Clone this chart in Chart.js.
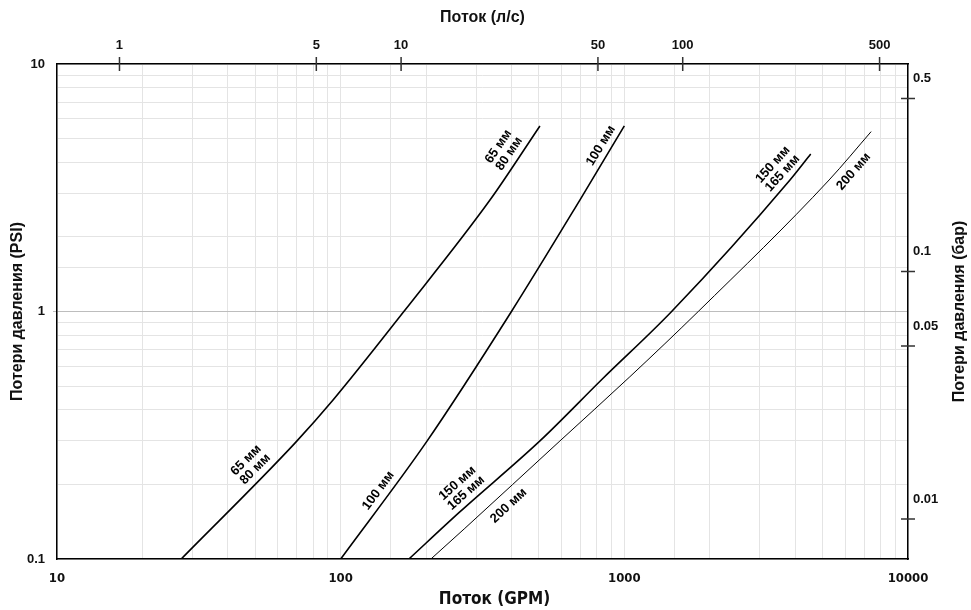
<!DOCTYPE html>
<html lang="ru">
<head>
  <meta charset="UTF-8">
  <title>Потери давления – Поток</title>
  <style>
    body { margin: 0; background: #fff; }
    #wrap { width: 971px; height: 610px; }
  </style>
</head>
<body>
  <div id="wrap"><canvas id="chart"></canvas></div>

  <script src="https://cdn.jsdelivr.net/npm/chart.js"></script>
  <script>
    // Поток (GPM) и потери давления (PSI)
    const gpm65 = [27.4, 69, 94, 167, 336, 504];
    const psi65 = [0.1, 0.294, 0.439, 1.0, 2.82, 5.62];

    const gpm100 = [100, 201, 400, 697, 1000];
    const psi100 = [0.1, 0.298, 1.0, 2.82, 5.62];

    const gpm150 = [174, 263, 504, 838, 1468, 3837, 4540];
    const psi150 = [0.1, 0.155, 0.30, 0.535, 1.0, 3.40, 4.33];

    const gpm200 = [208, 274, 593, 1046, 1822, 5272, 7413];
    const psi200 = [0.1, 0.133, 0.30, 0.545, 1.0, 3.40, 5.33];

    const gpmTickLabels = [10, 100, 1000, 10000];
    const psiTickLabels = [0.1, 1, 10];
    const lpsTicks = [1, 5, 10, 50, 100, 500];
    const barTicks = [0.5, 0.1, 0.05, 0.01];

    // подписи кривых: серия, положение по оси GPM, строки, сторона
    const curveLabels = [
      { series: 0, at: 53,   lines: ['65 мм', '80 мм'],   side: 1 },
      { series: 0, at: 420,  lines: ['65 мм', '80 мм'],   side: 1 },
      { series: 1, at: 145,  lines: ['100 мм'],           side: 1 },
      { series: 1, at: 886,  lines: ['100 мм'],           side: 1 },
      { series: 2, at: 292,  lines: ['150 мм', '165 мм'], side: 1 },
      { series: 2, at: 3837, lines: ['150 мм', '165 мм'], side: 1 },
      { series: 3, at: 364,  lines: ['200 мм'],           side: -1 },
      { series: 3, at: 5943, lines: ['200 мм'],           side: -1 }
    ];

    const LPS_PER_GPM = 0.0630902;
    const BAR_PER_PSI = 0.0689476;

    const pts = (xs, ys) => xs.map((v, i) => ({ x: v, y: ys[i] }));
    const isDecade = v => Math.abs(Math.log10(v) - Math.round(Math.log10(v))) < 1e-6;

    const SANS = '"Liberation Sans", Arial, sans-serif';
    const NARROW = '"Liberation Sans Narrow", "DejaVu Sans Condensed", Arial, sans-serif';

    Chart.defaults.font.family = SANS;
    Chart.defaults.font.weight = 'bold';
    Chart.defaults.color = '#111';

    const curveLabelPlugin = {
      id: 'curveLabels',
      afterDatasetsDraw(chart) {
        const { ctx, scales: { x } } = chart;
        ctx.save();
        ctx.font = 'bold 13px ' + SANS;
        ctx.fillStyle = '#000';
        ctx.textAlign = 'center';
        ctx.textBaseline = 'middle';
        curveLabels.forEach(lab => {
          const p = chart.getDatasetMeta(lab.series).data;
          const px = x.getPixelForValue(lab.at);
          let i = 0;
          while (i < p.length - 2 && p[i + 1].x < px) i++;
          const a = p[i], b = p[i + 1];
          const t = (px - a.x) / (b.x - a.x);
          const py = a.y + t * (b.y - a.y);
          const ang = Math.atan2(b.y - a.y, b.x - a.x);
          ctx.save();
          ctx.translate(px, py);
          ctx.rotate(ang);
          const n = lab.lines.length;
          lab.lines.forEach((txt, k) => {
            const d = lab.side > 0 ? -(10 + (n - 1 - k) * 13) : 13 + k * 13;
            ctx.fillText(txt, 0, d);
          });
          ctx.restore();
        });
        ctx.restore();
      }
    };

    // засечки сверху и справа пересекают рамку; заголовки снизу и справа
    const crossTicks = {
      id: 'crossTicks',
      afterDraw(chart) {
        const { ctx, chartArea: ca, scales: { x2, y2 } } = chart;
        ctx.save();
        ctx.strokeStyle = '#333';
        ctx.lineWidth = 1.5;
        ctx.beginPath();
        x2.ticks.forEach(t => {
          const p = x2.getPixelForValue(t.value);
          ctx.moveTo(p, ca.top - 7);
          ctx.lineTo(p, ca.top + 7);
        });
        y2.ticks.forEach(t => {
          const p = y2.getPixelForValue(t.value);
          ctx.moveTo(ca.right - 7, p);
          ctx.lineTo(ca.right + 7, p);
        });
        ctx.stroke();

        ctx.fillStyle = '#111';
        ctx.textAlign = 'center';
        ctx.textBaseline = 'middle';
        ctx.font = 'bold 17px ' + NARROW;
        ctx.fillText('Поток (GPM)', (ca.left + ca.right) / 2 + 12, chart.height - 10);

        ctx.translate(chart.width - 11, (ca.top + ca.bottom) / 2);
        ctx.rotate(-Math.PI / 2);
        ctx.font = 'bold 16px ' + SANS;
        ctx.fillText('Потери давления (бар)', 0, 0);
        ctx.restore();
      }
    };

    const line = (data, w) => ({
      data: data,
      borderColor: '#000',
      borderWidth: w,
      pointRadius: 0,
      cubicInterpolationMode: 'monotone',
      fill: false
    });

    new Chart(document.getElementById('chart'), {
      type: 'line',
      data: {
        datasets: [
          line(pts(gpm65, psi65), 1.6),
          line(pts(gpm100, psi100), 1.6),
          line(pts(gpm150, psi150), 1.6),
          line(pts(gpm200, psi200), 1)
        ]
      },
      options: {
        responsive: true,
        maintainAspectRatio: false,
        animation: false,
        layout: { padding: 0 },
        plugins: { legend: { display: false }, tooltip: { enabled: false } },
        scales: {
          x: {
            type: 'logarithmic',
            position: 'bottom',
            min: 10,
            max: 10000,
            afterFit: s => { s.height = 51; },
            grid: { color: '#e4e4e4', drawTicks: false },
            border: { color: '#000', width: 1.5 },
            ticks: {
              autoSkip: false,
              maxRotation: 0,
              padding: 12,
              font: { family: NARROW, size: 13, weight: 'bold' },
              callback: v => gpmTickLabels.some(g => Math.abs(g - v) < 1e-6) ? String(v) : ''
            },
            title: { display: false }
          },
          x2: {
            type: 'logarithmic',
            position: 'top',
            min: 10 * LPS_PER_GPM,
            max: 10000 * LPS_PER_GPM,
            afterFit: s => { s.height = 64; },
            afterBuildTicks: s => { s.ticks = lpsTicks.map(v => ({ value: v })); },
            grid: { drawOnChartArea: false, drawTicks: false },
            border: { color: '#000', width: 1.5 },
            ticks: {
              autoSkip: false,
              maxRotation: 0,
              padding: 11,
              font: { size: 13, weight: 'bold' },
              callback: v => String(v)
            },
            title: {
              display: true,
              text: 'Поток (л/с)',
              padding: { top: 8, bottom: 0 },
              font: { size: 16, weight: 'bold' }
            }
          },
          y: {
            type: 'logarithmic',
            position: 'left',
            min: 0.1,
            max: 10,
            afterFit: s => { s.width = 57; },
            grid: {
              color: c => (c.tick && Math.abs(c.tick.value - 1) < 1e-9) ? '#bdbdbd' : '#e4e4e4',
              tickColor: c => (c.tick && Math.abs(c.tick.value - 1) < 1e-9) ? '#bdbdbd' : 'rgba(0,0,0,0)',
              tickLength: 4
            },
            border: { color: '#000', width: 1.5 },
            ticks: {
              autoSkip: false,
              padding: 8,
              font: { size: 13, weight: 'bold' },
              callback: v => psiTickLabels.some(p => Math.abs(p - v) < 1e-9) && isDecade(v) ? String(v) : ''
            },
            title: {
              display: true,
              text: 'Потери давления (PSI)',
              padding: { top: 8, bottom: 0 },
              font: { size: 16, weight: 'bold' }
            }
          },
          y2: {
            type: 'logarithmic',
            position: 'right',
            min: 0.1 * BAR_PER_PSI,
            max: 10 * BAR_PER_PSI,
            afterFit: s => { s.width = 63; },
            afterBuildTicks: s => { s.ticks = barTicks.map(v => ({ value: v })); },
            grid: { drawOnChartArea: false, drawTicks: false },
            border: { color: '#000', width: 1.5 },
            ticks: {
              autoSkip: false,
              padding: 5,
              labelOffset: -20,
              font: { size: 13, weight: 'bold' },
              callback: v => String(v)
            }
          }
        }
      },
      plugins: [curveLabelPlugin, crossTicks]
    });
  </script>
</body>
</html>
